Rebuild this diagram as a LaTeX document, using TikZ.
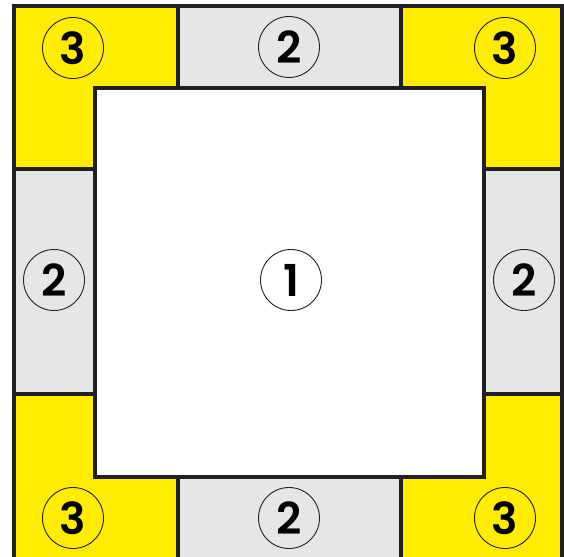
\documentclass[tikz,border=0pt]{standalone}
\usepackage{fontspec}
\setmainfont{Poppins}[BoldFont={Poppins SemiBold}]
\usepackage{tikz}
\definecolor{ink}{RGB}{35,31,32}
\definecolor{signyellow}{RGB}{255,237,0}
\definecolor{panelgray}{RGB}{229,230,232}

\begin{document}
\begin{tikzpicture}[
    x=1pt, y=-1pt,
    zone/.style={draw=ink, line width=4pt, line join=miter},
    corner/.style={zone, fill=signyellow},
    side/.style={zone, fill=panelgray},
    core/.style={zone, fill=white},
    num/.style={circle, draw=ink, line width=0.9pt, minimum size=61pt,
                inner sep=0pt, font=\fontsize{44}{44}\selectfont\bfseries}
  ]
    \useasboundingbox (0,0) rectangle (564,556);
    \clip (0,0) rectangle (564,556);

    % corner zones
    \draw[corner] (14,6) rectangle (178,169);
    \draw[corner] (401,6) rectangle (562,169);
    \draw[corner] (14,394) rectangle (178,566);
    \draw[corner] (401,394) rectangle (562,566);

    % side zones
    \draw[side] (178,6) rectangle (401,88);
    \draw[side] (178,477) rectangle (401,566);
    \draw[side] (14,169) rectangle (95,394);
    \draw[side] (484,169) rectangle (562,394);

    % central zone
    \draw[core] (95,88) rectangle (484,477);

    \node[num] (centre) at (291,280) {1};
    \node[num] (top) at (289,47) {2};
    \node[num] (bottom) at (289,518) {2};
    \node[num] (left) at (54,280) {2};
    \node[num] (right) at (524,280) {2};
    \node[num] (topleft) at (73,48) {3};
    \node[num] (topright) at (505,48) {3};
    \node[num] (bottomleft) at (73,518) {3};
    \node[num] (bottomright) at (505,518) {3};
  \end{tikzpicture}
\end{document}
